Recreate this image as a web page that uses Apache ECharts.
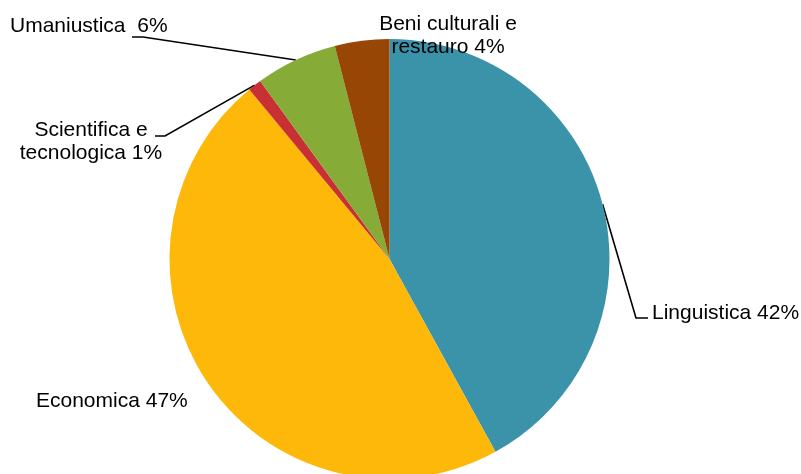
<!DOCTYPE html>
<html>
<head>
<meta charset="utf-8">
<script src="https://cdn.jsdelivr.net/npm/echarts@6/dist/echarts.min.js"></script>
<style>
html,body{margin:0;padding:0;background:#fff;}
#c{width:801px;height:474px;}
</style>
</head>
<body>
<div id="c"></div>
<script>
const categories = ['Linguistica', 'Economica', 'Scientifica e\ntecnologica', 'Umaniustica ', 'Beni culturali e\nrestauro'];
const values = [42, 47, 1, 6, 4];
const colors = ['#3A93A8', '#FEB80A', '#C83033', '#86AC37', '#984606'];

// label placement (position of the label block and elbow of its leader line)
const labelPlace = [
  { x: 652, y: 313, align: 'left', elbow: [[636, 318], [648, 318]] },
  { x: 36, y: 401, align: 'left', elbow: null },
  { x: 91, y: 142, align: 'center', elbow: [[165, 136], [155, 136]] },
  { x: 10, y: 26, align: 'left', elbow: [[143, 37], [132, 37]] },
  { x: 448, y: 36, align: 'center', elbow: null }
];

const chart = echarts.init(document.getElementById('c'), null, { renderer: 'canvas' });
chart.setOption({
  animation: false,
  backgroundColor: '#ffffff',
  series: [{
    type: 'pie',
    center: [389.5, 259],
    radius: 220,
    startAngle: 90,
    clockwise: true,
    avoidLabelOverlap: false,
    silent: true,
    emphasis: { disabled: true },
    data: categories.map((c, i) => ({
      name: c,
      value: values[i],
      itemStyle: { color: colors[i] },
      labelLine: { show: !!labelPlace[i].elbow }
    })),
    label: {
      show: true,
      position: 'outside',
      formatter: '{b} {d}%',
      fontFamily: 'Liberation Sans, Arial, sans-serif',
      fontSize: 21,
      lineHeight: 23,
      color: '#000'
    },
    labelLine: {
      show: true,
      lineStyle: { color: '#000', width: 1.6 }
    },
    labelLayout: function (params) {
      const p = labelPlace[params.dataIndex];
      const out = { x: p.x, y: p.y, align: p.align, verticalAlign: 'middle' };
      if (p.elbow && params.labelLinePoints) {
        out.labelLinePoints = [params.labelLinePoints[0], p.elbow[0], p.elbow[1]];
      }
      return out;
    }
  }]
});
</script>
</body>
</html>
